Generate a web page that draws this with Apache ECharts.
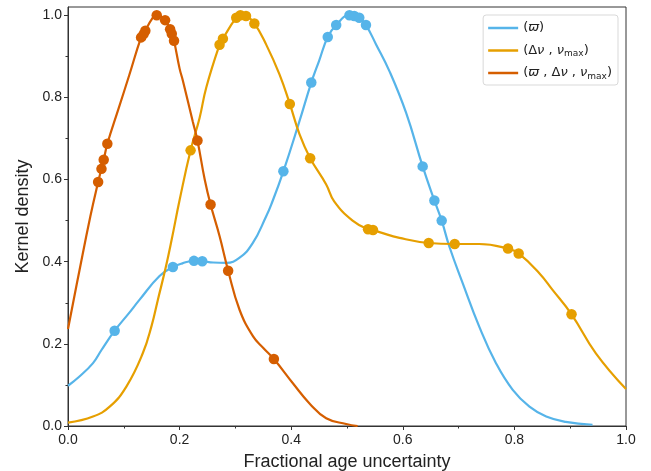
<!DOCTYPE html>
<html>
<head>
<meta charset="utf-8">
<script src="https://cdn.jsdelivr.net/npm/echarts@6/dist/echarts.min.js"></script>
<style>
  html, body { margin: 0; padding: 0; background: #fff; }
  #chart { width: 651px; height: 471px; }
</style>
</head>
<body>
<div id="chart"></div>
<script>
// series names as they appear in the legend
const seriesNames = ['(ϖ)', '(Δν , νmax)', '(ϖ , Δν , νmax)'];
const seriesColors = ['#56B4E9', '#E69F00', '#D55E00'];

// tick values
const yTicks = [0, 0.2, 0.4, 0.6, 0.8, 1.0];
const yMinorTicks = [0.1, 0.3, 0.5, 0.7, 0.9];

// kernel density curves ([x, density])
const varpiCurve = [
  [0, 0.098], [0.02, 0.12], [0.0448, 0.153], [0.06, 0.185], [0.11, 0.276], [0.128, 0.307],
  [0.164, 0.365], [0.205, 0.396], [0.26, 0.398], [0.2836, 0.397], [0.307, 0.409], [0.331, 0.445],
  [0.355, 0.51], [0.3642, 0.539], [0.4148, 0.742], [0.45, 0.889], [0.5521, 0.929], [0.576, 0.864],
  [0.606, 0.762], [0.6834, 0.437], [0.7073, 0.348], [0.737, 0.242], [0.767, 0.153], [0.797, 0.088],
  [0.827, 0.047], [0.857, 0.023], [0.892, 0.01], [0.94, 0.003]
];
const varpiDots = [
  [0.0836, 0.232], [0.188, 0.387], [0.2257, 0.402], [0.2406, 0.401], [0.386, 0.62],
  [0.436, 0.836], [0.4655, 0.947], [0.4806, 0.976], [0.5044, 1.0], [0.513, 0.998],
  [0.522, 0.994], [0.534, 0.976], [0.6356, 0.632], [0.6566, 0.549], [0.6697, 0.50]
];

const seisCurve = [
  [0, 0.008], [0.0448, 0.023], [0.0747, 0.047], [0.1046, 0.096], [0.134, 0.177], [0.15, 0.245],
  [0.161, 0.307], [0.175, 0.385], [0.186, 0.455], [0.20, 0.55], [0.2358, 0.75], [0.2478, 0.824],
  [0.355, 0.929], [0.379, 0.856], [0.415, 0.71], [0.4627, 0.588], [0.477, 0.547], [0.51, 0.50],
  [0.5581, 0.472], [0.594, 0.458], [0.737, 0.443], [0.8446, 0.372], [0.868, 0.332], [0.946, 0.177],
  [1.0, 0.09]
];
const seisDots = [
  [0.2197, 0.671], [0.2716, 0.928], [0.2776, 0.943], [0.3015, 0.994], [0.309, 1.0],
  [0.319, 0.998], [0.334, 0.98], [0.3975, 0.784], [0.434, 0.652], [0.5377, 0.479],
  [0.5466, 0.477], [0.6464, 0.4455], [0.693, 0.443], [0.7885, 0.432], [0.8076, 0.42],
  [0.9024, 0.272]
];

const allCurve = [
  [0, 0.236], [0.02, 0.375], [0.04, 0.51], [0.09, 0.77], [0.11, 0.855], [0.15, 0.99],
  [0.20, 0.87], [0.206, 0.84], [0.2238, 0.74], [0.245, 0.60], [0.2717, 0.462], [0.3074, 0.283],
  [0.3317, 0.218], [0.35, 0.19], [0.403, 0.104], [0.4328, 0.055], [0.4627, 0.019], [0.4985, 0.005],
  [0.519, 0.0]
];
const allDots = [
  [0.054, 0.594], [0.060, 0.626], [0.064, 0.648], [0.0705, 0.687], [0.131, 0.946],
  [0.1355, 0.954], [0.1386, 0.962], [0.159, 1.0], [0.174, 0.988], [0.183, 0.966],
  [0.186, 0.955], [0.19, 0.938], [0.232, 0.695], [0.2555, 0.539], [0.287, 0.378],
  [0.369, 0.163]
];

const curves = [varpiCurve, seisCurve, allCurve];
const dots = [varpiDots, seisDots, allDots];

// line goes through the dots too
function merged(curve, pts) {
  return curve.concat(pts).sort((a, b) => a[0] - b[0]);
}

const axisColor = '#333';
const labelFont = { fontFamily: 'Liberation Sans, Arial, sans-serif', fontSize: 14, color: '#222' };

const series = [];
curves.forEach((c, i) => {
  series.push({
    name: seriesNames[i],
    type: 'line',
    data: merged(c, dots[i]),
    smooth: 0.45,
    symbol: 'none',
    color: seriesColors[i],
    lineStyle: { width: 2.2, color: seriesColors[i] },
    z: 2 + i * 2
  });
  series.push({
    name: seriesNames[i] + ' pts',
    type: 'scatter',
    data: dots[i],
    symbolSize: 10.5,
    itemStyle: { color: seriesColors[i], opacity: 1 },
    z: 3 + i * 2
  });
});

function legendLabel(name) {
  return name
    .replace(/ϖ/g, '{it|ϖ}')
    .replace(/ν/g, '{it|ν}')
    .replace(/max/g, '{sub|max}');
}

const chart = echarts.init(document.getElementById('chart'));
chart.setOption({
  animation: false,
  backgroundColor: '#fff',
  grid: {
    left: 68, right: 25, top: 7, bottom: 45,
    outerBoundsMode: 'none',
    show: true, borderColor: axisColor, borderWidth: 1,
    backgroundColor: 'transparent'
  },
  legend: {
    data: seriesNames,
    orient: 'vertical',
    right: 33,
    top: 15,
    padding: [5, 6, 4, 5],
    icon: 'rect',
    itemGap: 6.5,
    itemWidth: 30,
    itemHeight: 2.5,
    itemTextGap: 10,
    borderColor: '#d9d9d9',
    borderWidth: 1,
    borderRadius: 3,
    backgroundColor: 'rgba(255,255,255,0.8)',
    formatter: legendLabel,
    textStyle: {
      fontFamily: 'DejaVu Sans', fontSize: 13, color: '#222', lineHeight: 16,
      rich: {
        it: { fontFamily: 'DejaVu Sans', fontStyle: 'italic', fontSize: 13, color: '#222', lineHeight: 16 },
        sub: { fontFamily: 'DejaVu Sans', fontSize: 9, color: '#222', lineHeight: 9, verticalAlign: 'bottom' }
      }
    }
  },
  xAxis: {
    type: 'value',
    min: 0, max: 1, interval: 0.2,
    name: 'Fractional age uncertainty',
    nameLocation: 'middle',
    nameGap: 27,
    nameTextStyle: { fontFamily: 'Liberation Sans, Arial, sans-serif', fontSize: 18, color: '#222' },
    axisLine: { onZero: false, lineStyle: { color: axisColor, width: 1 } },
    axisTick: { show: true, length: 4, lineStyle: { color: axisColor } },
    minorTick: { show: true, splitNumber: 2, length: 2.5, lineStyle: { color: axisColor } },
    axisLabel: Object.assign({ margin: 7, formatter: v => v.toFixed(1) }, labelFont),
    splitLine: { show: false },
    minorSplitLine: { show: false }
  },
  yAxis: [
    {
      type: 'value',
      min: 0, max: 1.02,
      name: 'Kernel density',
      nameLocation: 'middle',
      nameGap: 36,
      nameTextStyle: { fontFamily: 'Liberation Sans, Arial, sans-serif', fontSize: 18, color: '#222' },
      axisLine: { show: true, onZero: false, lineStyle: { color: axisColor, width: 1 } },
      axisTick: { show: true, length: 4, customValues: yTicks, lineStyle: { color: axisColor } },
      axisLabel: Object.assign({ margin: 6, customValues: yTicks, formatter: v => v.toFixed(1) }, labelFont),
      splitLine: { show: false }
    },
    {
      type: 'value',
      min: 0, max: 1.02,
      position: 'left',
      axisLine: { show: false },
      axisTick: { show: true, length: 2.5, customValues: yMinorTicks, lineStyle: { color: axisColor } },
      axisLabel: { show: false },
      splitLine: { show: false }
    }
  ],
  series: series
});
</script>
</body>
</html>
